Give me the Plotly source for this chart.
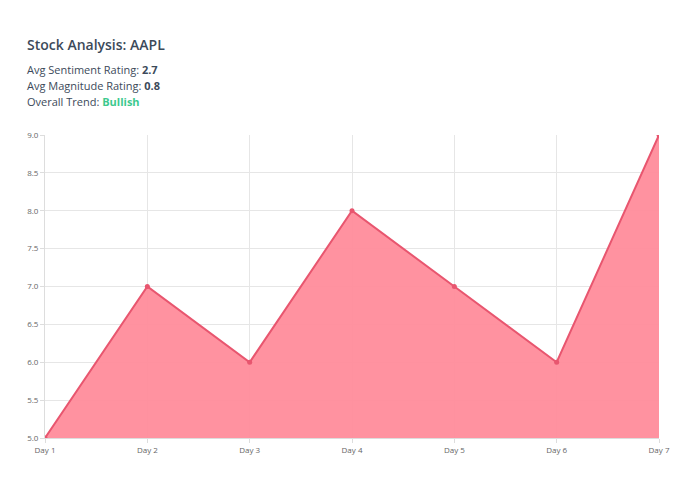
import plotly.graph_objects as go

days = ["Day 1", "Day 2", "Day 3", "Day 4", "Day 5", "Day 6", "Day 7"]
values = [5, 7, 6, 8, 7, 6, 9]
y_ticks = [5.0, 5.5, 6.0, 6.5, 7.0, 7.5, 8.0, 8.5, 9.0]

fig = go.Figure(go.Scatter(
    x=days, y=values, mode="lines+markers", fill="tozeroy",
    fillcolor="rgba(255,140,155,0.95)",
    line=dict(color="#e8566f", width=2), marker=dict(size=5, color="#e8566f"),
))
W, H = 695, 494
L, R, T, B = 37, 44, 127, 64
fig.update_layout(
    width=W, height=H, paper_bgcolor="white", plot_bgcolor="white",
    margin=dict(l=L, r=R, t=T, b=B), showlegend=False,
    font=dict(family="Open Sans", color="#555"),
    xaxis=dict(showgrid=True, gridcolor="#e6e6e6", linecolor="#ddd", showline=True,
               tickfont=dict(size=8, color="#666"), ticks="outside", ticklen=4, tickcolor="#ddd",
               range=[0, 6], fixedrange=True),
    yaxis=dict(range=[5, 9], tickvals=y_ticks, ticktext=[f"{v:.1f}" for v in y_ticks],
               showgrid=True, gridcolor="#e6e6e6", linecolor="#ddd", showline=True,
               tickfont=dict(size=8, color="#666"), ticks="outside", ticklen=4, tickcolor="#ddd",
               zeroline=False),
)
def txt(y, s, size):
    fig.add_annotation(xref="paper", yref="paper", x=-(45-25)/(W-89), xanchor="left",
                       y=1 + (135 - y) / (H - 191), yanchor="middle", text=s, showarrow=False,
                       font=dict(size=size, color="#3c4a5a"))
txt(45, "<span style='font-weight:600'>Stock Analysis: AAPL</span>", 14)
txt(69, "Avg Sentiment Rating: <b>2.7</b>", 11)
txt(86, "Avg Magnitude Rating: <b>0.8</b>", 11)
txt(102, "Overall Trend: <b><span style='color:#3cc98e'>Bullish</span></b>", 11)
fig.write_html("out.html")
